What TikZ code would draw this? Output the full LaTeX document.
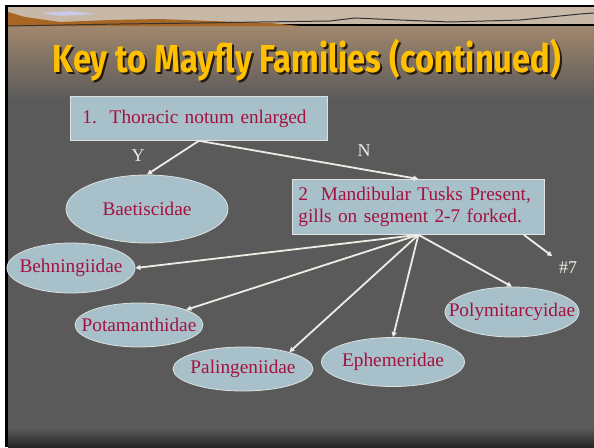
\documentclass[tikz,border=0pt]{standalone}
\usepackage{fontspec}
\setmainfont{Liberation Serif}
\newfontfamily\titlefont{Fira Sans}
\usetikzlibrary{arrows.meta,positioning,calc,shapes.geometric}
\definecolor{boxfill}{HTML}{A8C0CA}
\definecolor{boxline}{HTML}{DCE2E0}
\definecolor{tcol}{HTML}{A3123F}
\definecolor{slide}{HTML}{5A5A5A}
\definecolor{arrowc}{HTML}{EEECE4}
\definecolor{gold}{HTML}{FFC000}
\tikzset{main base/.style={draw=boxline,line width=0.8pt,text=tcol,font=\fontsize{19.3}{22}\selectfont}, }
\tikzset{main node/.style={rectangle,fill=boxfill,main base,align=left}, }
\tikzset{main fam/.style={ellipse,fill=boxfill,main base,inner xsep=-30pt,inner ysep=-8pt}, }
\tikzset{main verb/.style={text=arrowc,font=\fontsize{18}{20}\selectfont}, }
\tikzset{linea/.style={-{Triangle[length=5pt,width=5pt]},line width=1.8pt,draw=arrowc}}

\begin{document}
\begin{tikzpicture}[x=1pt,y=-1pt]
  \useasboundingbox (0,0) rectangle (594,447);
  % slide background
  \fill[white] (0,0) rectangle (594,447);
  \fill[black] (5,5) rectangle (594,447);
  \shade[top color=black!10!brown!50!gray!90,bottom color=slide] (8,26) rectangle (594,100);
  \fill[slide] (8,100) rectangle (594,428);
  \shade[top color=slide,bottom color=black!85] (8,428) rectangle (594,447);
  % banner
  \fill[brown!30!white!85!black] (8,7) rectangle (594,24);
  \fill[brown!70!orange!80!black] (8,12) -- (25,17) -- (60,22) -- (110,20) -- (160,19) -- (210,21) -- (270,23) -- (300,26) -- (8,26) -- cycle;
  \fill[gray!60!blue!30] (40,13) -- (70,11) -- (95,14) -- (60,16) -- cycle;
  \draw[black!80,line width=1pt] (8,26) -- (120,24) -- (200,23) -- (260,22) -- (330,21) -- (355,18) -- (400,20) -- (450,22) -- (520,20) -- (580,14) -- (594,13);
  % title
  \node[transform shape,xscale=0.84,anchor=base,text=black!80!brown,font=\titlefont\bfseries\fontsize{39}{44}\selectfont] at (309,74) {Key to Mayfly Families (continued)};
  \node[transform shape,xscale=0.84,anchor=base,text=gold,font=\titlefont\bfseries\fontsize{39}{44}\selectfont] (title) at (307,72) {Key to Mayfly Families (continued)};
  %
  \node[main node,anchor=north west,minimum width=257,minimum height=44,text width=233pt,inner xsep=12pt] (1) at (70,96) {1.\ \ Thoracic notum enlarged};
  \node[main node,anchor=north west,minimum width=252,minimum height=55,text width=240pt,inner xsep=6pt] (2) at (292,179) {2\ \ Mandibular Tusks Present,\\gills on segment 2-7 forked.};
  \node[main fam,minimum width=162,minimum height=68] (3) at (147,209) {Baetiscidae};
  \node[main fam,minimum width=128,minimum height=50] (4) at (71,268) {Behningiidae};
  \node[main fam,minimum width=128,minimum height=44] (5) at (139,325) {Potamanthidae};
  \node[main fam,minimum width=140,minimum height=44] (6) at (243,369) {Palingeniidae};
  \node[main fam,minimum width=143,minimum height=49] (7) at (393,362) {Ephemeridae};
  \node[main fam,minimum width=134,minimum height=50] (8) at (512,312) {Polymitarcyidae};
  \node[main verb] (9) at (568,268) {\#7};
  \node[main verb] (y) at (138,156) {Y};
  \node[main verb] (n) at (364,151) {N};
  %
\foreach \x /\y in{1.south/3.north,1.south/2.north,2.south/4.east,2.south/5,2.south/6.20,2.south/7.north,2.south/8.north}
  \draw[linea] (\x) -- (\y);
  \draw[linea,shorten >=4pt] ([xshift=-21pt]2.south east) -- (9.north west);
%
\end{tikzpicture}
\end{document}
